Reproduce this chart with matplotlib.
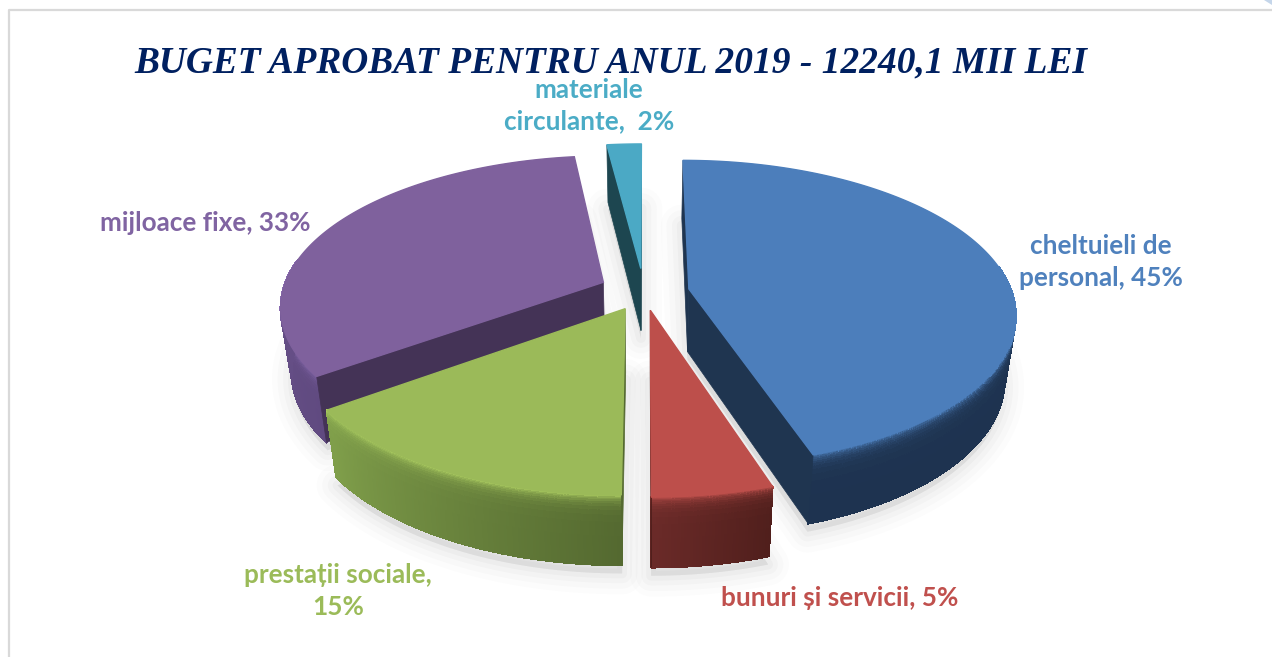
import matplotlib
matplotlib.use("Agg")
import matplotlib.pyplot as plt
import numpy as np
from matplotlib.collections import PolyCollection
from matplotlib.colors import to_rgb

title = "BUGET APROBAT PENTRU ANUL 2019 - 12240,1 MII LEI"
labels = ["cheltuieli de\npersonal, 45%", "bunuri și servicii, 5%", "prestații sociale,\n15%",
          "mijloace fixe, 33%", "materiale\ncirculante,  2%"]
values = [45, 5, 15, 33, 2]

offset_x = [0.135, 0.016, -0.060, -0.129, -0.013]
offset_y = [0.040, -0.099, -0.089, 0.085, 0.179]
radius = [0.99, 1.0, 1.0, 0.985, 1.0]
label_pos = [(1101, 262), (840, 598), (338, 591), (205, 223), (589, 106)]
top_colors = ["#4C7EBB", "#BD4F4B", "#9BBA59", "#7F619D", "#4BA9C5"]
text_colors = ["#4F81BD", "#C0504D", "#9BBB59", "#8064A2", "#4BACC6"]
wall_start = ["#1E3350", "#501F1C", "#546930", "#604A80", "#1D4650"]
wall_end = ["#1E3350", "#6A2A28", "#7F9E4A", "#735A96", "#1D4650"]
rim_colors = ["#4C7EBB", "#BD4F4B", "#B4D666", "#8A6CB2", "#4BA9C5"]
inner_colors = ["#1F3550", "#501F1C", "#546930", "#443356", "#1D4650"]
draw_order = [4, 3, 0, 2, 1]

# perspective of the pie, in pixels
cx, cy = 645, 295
rx, ry = 327, 152
k = 0.158
depth = 63
taper = 0.03


def project(u, v, z=0.0):
    s = 1 / (1 + k * v)
    f = 1 - taper * z
    return np.column_stack([cx + rx * u * s * f, cy - ry * v * s * f + z * depth * s])


def mix(a, b, t):
    a, b = np.array(to_rgb(a)), np.array(to_rgb(b))
    return a + (b - a) * t


fig = plt.figure(figsize=(12.72, 6.57), dpi=100)
ax = fig.add_axes([0, 0, 1, 1])
ax.set_xlim(0, 1272)
ax.set_ylim(657, 0)
ax.axis("off")

# frame of the screenshot
ax.plot([9, 9, 1272], [657, 10, 10], color="#D9D9D9", lw=1.6, zorder=1)
ax.fill([1264, 1272, 1272], [0, 0, 5], color="#C5D6EA", lw=0, zorder=1)

edges = np.concatenate([[0], np.cumsum(values) / np.sum(values) * 2 * np.pi])

slices = []
for i in range(len(values)):
    th = np.linspace(edges[i], edges[i + 1], max(8, int(values[i] * 8)))
    slices.append((offset_x[i], offset_y[i], th))

# soft shadow below everything
for i, (ox, oy, th) in enumerate(slices):
    u = np.concatenate([[ox], ox + radius[i] * np.sin(th)])
    v = np.concatenate([[oy], oy + radius[i] * np.cos(th)])
    pts = project(u, v, 1.12)
    for lw, a in [(30, 0.025), (22, 0.03), (14, 0.04), (7, 0.05)]:
        ax.fill(pts[:, 0], pts[:, 1], facecolor="#808080", edgecolor="#808080",
                lw=lw, alpha=a, zorder=2, joinstyle="round")

z = 3
levels = np.array([0, 0.02, 0.04, 0.06, 0.08, 0.11, 0.14, 0.18, 0.23, 0.3, 0.4, 0.6, 0.97, 1.0])
for i in draw_order:
    ox, oy, th = slices[i]
    u = ox + radius[i] * np.sin(th)
    v = oy + radius[i] * np.cos(th)

    # outer wall, cut in small quads for the shading, the back part is never seen
    polys, cols = [], []
    for j in range(len(th) - 1):
        if np.cos((th[j] + th[j + 1]) / 2) > 0.15:
            continue
        base = mix(wall_start[i], wall_end[i], j / (len(th) - 2))
        for m in range(len(levels) - 1):
            a = project(u[j:j + 2], v[j:j + 2], levels[m])
            b = project(u[j:j + 2], v[j:j + 2], levels[m + 1])
            polys.append([a[0], a[1], b[1], b[0]])
            t = np.exp(-levels[m] * 13)
            cols.append(np.clip(mix(base, rim_colors[i], t), 0, 1))
    if polys:
        ax.add_collection(PolyCollection(polys, facecolors=cols, edgecolors=cols,
                                         linewidths=1.0, antialiaseds=False, zorder=z))

    # radial walls, only the ones that look at the viewer
    for n, idx in enumerate([0, -1]):
        uu = np.array([ox, u[idx]])
        vv = np.array([oy, v[idx]])
        a = project(uu, vv, 0)
        b = project(uu, vv, 1)
        quad = np.array([a[0], a[1], b[1], b[0]])
        x, y = quad[:, 0], quad[:, 1]
        area = 0.5 * np.sum(x * np.roll(y, -1) - np.roll(x, -1) * y)
        if (area > 0) == (n == 1):
            ax.fill(x, y, color=inner_colors[i], lw=0.5, zorder=z + 0.1)

    # top of the slice
    top = project(np.concatenate([[ox], u]), np.concatenate([[oy], v]))
    ax.fill(top[:, 0], top[:, 1], color=top_colors[i], lw=1.0, zorder=z + 0.2)
    z += 1

ax.text(611, 63, title, ha="center", va="center", color="#002060", zorder=20,
        family="Liberation Serif", weight="bold", style="italic", fontsize=26.9)
for name, pos, col in zip(labels, label_pos, text_colors):
    ax.text(pos[0], pos[1], name, ha="center", va="center", color=col, zorder=20,
            family="Lato", weight="bold", fontsize=18.8, linespacing=1.36)

fig.savefig("out.png", dpi=100, facecolor="white")
